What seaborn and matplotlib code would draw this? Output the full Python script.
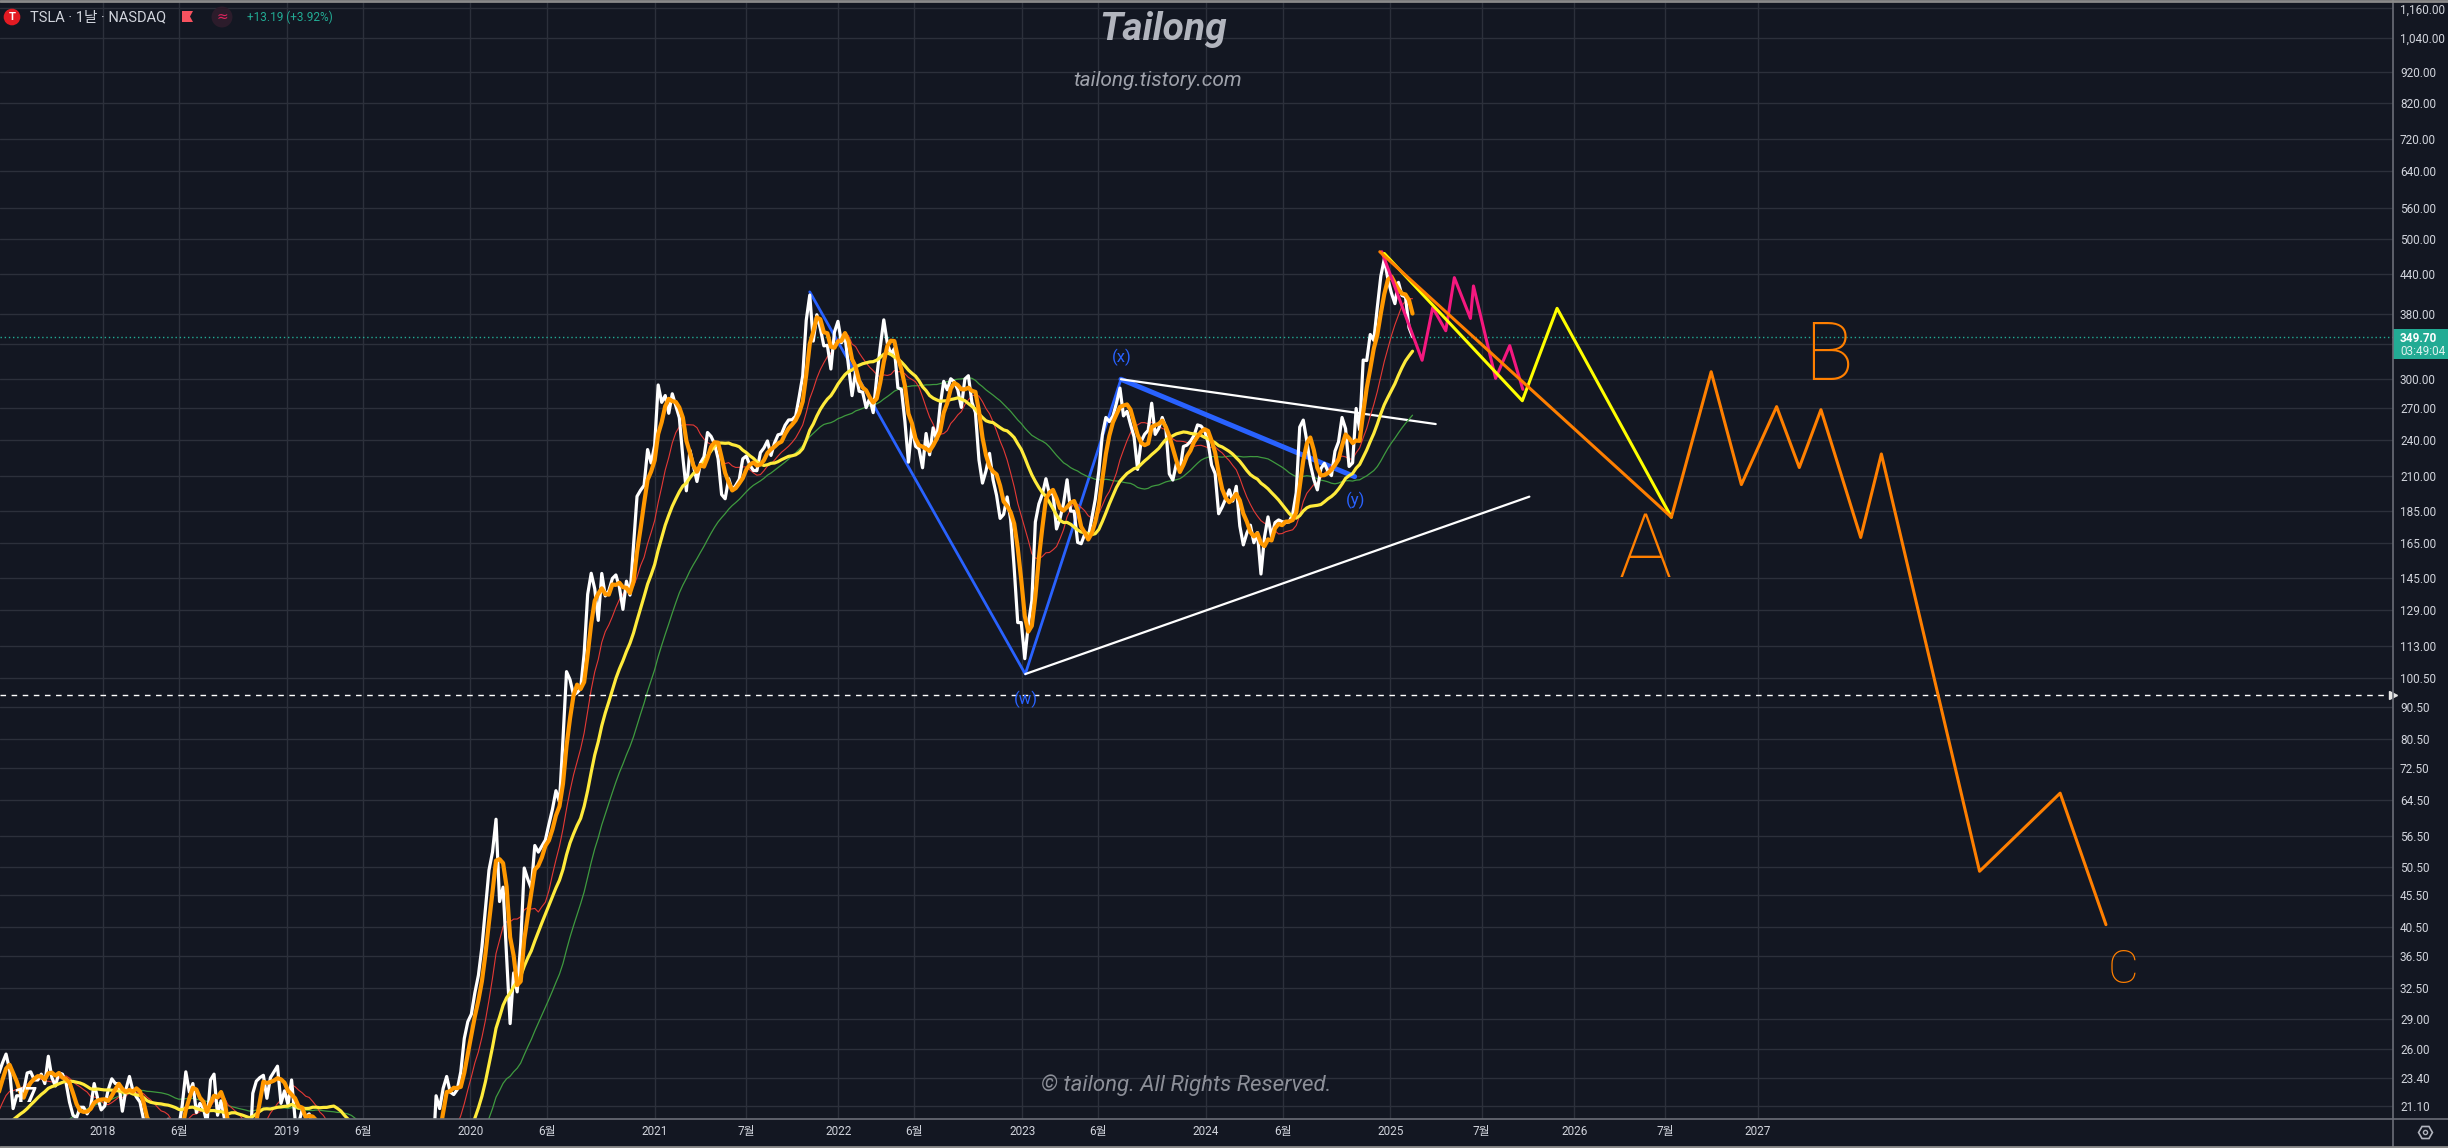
import numpy as np
import pandas as pd
import matplotlib
matplotlib.use("Agg")
import matplotlib.pyplot as plt
from matplotlib import ticker
from matplotlib.lines import Line2D
from matplotlib.patches import Rectangle, Polygon
from matplotlib.transforms import blended_transform_factory
import seaborn as sns

W, H = 2448, 1148

# weekly closes of TSLA (split adjusted)
# 2016 and the first half of 2017 only warm up the moving averages
close_2016 = [14.4, 14.5, 14.7, 14.8, 15.7, 15.1, 15.0, 15.0, 14.6, 13.2,
              13.0, 13.7, 13.8, 13.6, 13.1, 13.1, 13.3, 13.3, 12.7, 12.1,
              12.3, 13.1, 12.1, 12.8, 13.5, 14.2, 14.2]
close_2017 = [15.3, 15.9, 16.3, 16.9, 16.8, 17.9, 18.1, 17.1, 16.8, 16.2,
              17.4, 17.5, 18.6, 20.2, 20.3, 20.4, 20.9, 20.5, 21.7, 20.7,
              21.7, 22.7, 23.8, 24.7, 25.5, 24.1, 20.9, 21.9, 21.9, 22.3,
              23.8, 23.9, 23.2, 23.2, 23.7, 22.9, 25.3, 23.4, 22.7, 23.8,
              23.7, 23.0, 21.4, 20.4, 20.2, 21.0, 21.0, 20.5, 21.0, 22.9,
              21.7, 20.8]
close_2018 = [21.1, 22.4, 23.3, 22.9, 22.9, 20.7, 22.4, 23.5, 22.3, 21.8,
              21.4, 20.1, 17.7, 19.9, 20.0, 19.3, 19.6, 19.6, 20.1, 18.5,
              18.6, 19.5, 21.2, 23.9, 22.2, 22.9, 20.6, 21.3, 20.9, 19.8,
              23.2, 23.7, 20.4, 21.5, 20.1, 17.5, 19.7, 19.9, 17.7, 17.5,
              17.3, 17.3, 22.1, 23.1, 23.4, 23.6, 21.7, 23.4, 23.9, 24.4,
              21.3, 22.3]
close_2019 = [21.2, 23.2, 20.1, 19.8, 20.8, 20.3, 20.5, 19.6, 19.7, 18.9,
              18.3, 17.6, 18.7, 18.3, 17.9, 18.2, 15.7, 17.0, 16.0, 14.1,
              12.7, 12.3, 13.6, 14.3, 14.8, 14.9, 15.5, 16.4, 17.2, 15.2,
              15.6, 15.7, 14.7, 14.1, 15.0, 15.3, 16.5, 16.0, 16.1, 15.4,
              16.5, 17.1, 21.9, 20.9, 22.5, 23.5, 22.2, 22.0, 22.4, 23.9,
              27.0, 28.7]
close_2020 = [29.5, 31.9, 34.0, 37.7, 43.4, 49.9, 53.3, 60.1, 44.5, 46.9,
              36.4, 28.5, 34.3, 32.0, 38.2, 50.3, 48.3, 46.7, 54.6, 53.3,
              54.5, 55.7, 59.0, 62.3, 66.7, 64.0, 80.6, 103.0, 100.0, 94.5,
              95.4, 96.8, 110.0, 136.6, 147.5, 139.4, 124.2, 147.4, 135.8, 138.4,
              144.7, 146.6, 140.2, 129.3, 143.3, 136.2, 163.2, 195.3, 199.7, 203.3,
              231.7, 220.6]
close_2021 = [235.2, 293.3, 275.3, 282.2, 264.5, 284.0, 272.0, 260.3, 225.2, 199.3,
              231.2, 218.3, 206.2, 220.6, 225.7, 246.6, 243.1, 236.5, 224.1, 196.6,
              193.6, 208.4, 199.7, 203.3, 207.8, 224.0, 226.3, 219.0, 214.7, 214.5,
              229.1, 233.0, 239.1, 226.8, 237.3, 244.5, 245.4, 253.2, 258.1, 258.4,
              261.8, 281.0, 303.2, 371.3, 407.3, 344.3, 379.0, 360.6, 338.3, 339.0,
              310.9, 355.7, 370.0]
close_2022 = [342.3, 349.9, 314.6, 282.1, 307.8, 286.7, 285.7, 270.0, 279.4, 265.1,
              301.8, 336.9, 372.0, 341.8, 328.3, 335.0, 290.3, 288.6, 256.5, 221.3,
              253.2, 234.5, 232.2, 216.8, 245.7, 227.3, 250.8, 240.1, 272.2, 297.2,
              288.2, 300.0, 296.7, 288.1, 270.2, 299.7, 303.4, 275.3, 265.3, 223.1,
              205.0, 214.4, 228.5, 207.5, 196.0, 180.2, 182.9, 194.9, 179.1, 150.2,
              123.2, 123.2]
close_2023 = [108.0, 122.4, 133.4, 177.9, 190.0, 196.9, 208.3, 196.9, 197.8, 173.4,
              180.1, 190.4, 207.5, 185.1, 185.0, 165.1, 164.3, 170.1, 168.0, 180.1,
              193.2, 214.0, 244.4, 260.5, 256.6, 261.8, 274.4, 290.0, 262.0, 266.4,
              253.9, 242.7, 215.5, 238.6, 245.0, 248.5, 274.4, 244.9, 250.2, 260.5,
              251.1, 212.0, 207.3, 220.0, 214.7, 234.3, 235.5, 238.8, 243.8, 253.5,
              252.5, 248.5]
close_2024 = [237.5, 218.9, 212.2, 183.3, 187.9, 193.6, 200.0, 192.0, 202.6, 175.3,
              163.6, 170.8, 175.8, 164.9, 171.1, 147.1, 168.3, 181.2, 168.5, 177.5,
              179.2, 178.1, 177.5, 178.0, 183.0, 197.9, 251.5, 258.0, 239.2, 219.8,
              207.7, 200.0, 216.1, 220.3, 214.1, 210.7, 230.3, 238.3, 260.5, 250.1,
              217.8, 220.7, 269.2, 249.0, 321.2, 320.7, 352.6, 345.2, 389.2, 436.2,
              465.0, 431.7]
close_2025 = [410.4, 394.7, 426.5, 406.6, 404.6, 361.6, 349.7]
first_friday = "2016-07-01"

# moving averages on the chart (20 / 60 / 120 / 240 days) in weeks
ma_weeks = {"ma20": 4, "ma60": 12, "ma120": 24, "ma240": 48}

last_price = 349.70
last_change = "+13.19 (+3.92%)"
dashed_level = 94.6

# axis ticks
tick_dates = ["2018-01-01", "2018-06-01", "2019-01-01", "2019-06-01", "2020-01-01",
              "2020-06-01", "2021-01-01", "2021-07-01", "2022-01-01", "2022-06-01",
              "2023-01-01", "2023-06-01", "2024-01-01", "2024-06-01", "2025-01-01",
              "2025-07-01", "2026-01-01", "2026-07-01", "2027-01-01"]
tick_labels = ["2018", "6월", "2019", "6월", "2020", "6월", "2021", "7월", "2022", "6월",
               "2023", "6월", "2024", "6월", "2025", "7월", "2026", "7월", "2027"]
price_ticks = [1160, 1040, 920, 820, 720, 640, 560, 500, 440, 380, 340, 300, 270,
               240, 210, 185, 165, 145, 129, 113, 100.5, 90.5, 80.5, 72.5, 64.5,
               56.5, 50.5, 45.5, 40.5, 36.5, 32.5, 29, 26, 23.4, 21.1]

# hand drawn wave count
wx_dates = ["2021-11-05", "2023-01-07", "2023-07-16"]
wx_prices = [412, 102.1, 299.5]
xy_dates = ["2023-07-16", "2024-10-22"]
xy_prices = [299.5, 209.9]
upper_dates = ["2023-07-16", "2025-04-01"]
upper_prices = [299.5, 254.3]
lower_dates = ["2023-01-07", "2025-10-04"]
lower_prices = [102.1, 195.1]
pink_dates = ["2024-12-15", "2025-03-05", "2025-03-26", "2025-04-21", "2025-05-08",
              "2025-06-09", "2025-06-15", "2025-07-29", "2025-08-26", "2025-09-21"]
pink_prices = [477, 321, 389, 357.5, 434, 374, 421, 300.5, 338.6, 288.7]
yellow_dates = ["2024-12-20", "2025-09-20", "2025-11-28", "2026-07-13"]
yellow_prices = [474, 276.9, 388, 181]
orange_dates = ["2024-12-11", "2026-07-13", "2026-09-30", "2026-11-29", "2027-02-07",
                "2027-03-24", "2027-05-06", "2027-07-24", "2027-09-03", "2028-03-16",
                "2028-08-23", "2028-11-22"]
orange_prices = [477, 181, 307.8, 203.9, 271, 217, 268, 168.1, 228, 49.7, 66.1, 40.9]

wave_labels = ["(w)", "(x)", "(y)"]
wave_label_dates = ["2023-01-08", "2023-07-18", "2024-10-24"]
wave_label_prices = [93.2, 324.9, 192.7]
abc_labels = ["A", "B", "C"]
abc_dates = ["2026-05-22", "2027-05-21", "2028-12-26"]
abc_prices = [159.4, 323.7, 34.7]

# colours
BG = "#131722"
GRID = "#2c303b"
AXIS = "#6b6e78"
TXT = "#d1d4dc"
TEAL = "#22ab94"
BLUE = "#2962ff"

closes = (close_2016 + close_2017 + close_2018 + close_2019 + close_2020 +
          close_2021 + close_2022 + close_2023 + close_2024 + close_2025)
df = pd.DataFrame({"date": pd.date_range(first_friday, periods=len(closes), freq="W-FRI"),
                   "close": closes})
for name, n in ma_weeks.items():
    df[name] = df["close"].rolling(n, min_periods=1).mean()

sns.set_theme(style="darkgrid", rc={
    "axes.facecolor": BG, "figure.facecolor": BG, "grid.color": GRID,
    "axes.edgecolor": AXIS, "text.color": TXT,
    "xtick.color": TXT, "ytick.color": TXT,
})
plt.rcParams["font.family"] = ["Roboto", "Noto Sans CJK KR", "DejaVu Sans"]

fig = plt.figure(figsize=(W / 100, H / 100), dpi=100)
ax = fig.add_axes([0, 29 / H, 2393 / W, 1119 / H])
ax.set_yscale("log")


def px(x, y):
    return x / W, 1 - y / H


# wave count lines below the price
d = pd.to_datetime
ax.plot(d(wx_dates), wx_prices, color=BLUE, lw=2.0, zorder=1)
ax.plot(d(xy_dates), xy_prices, color=BLUE, lw=3.6, zorder=1)
ax.plot(d(upper_dates), upper_prices, color="white", lw=1.6, zorder=1)
ax.plot(d(lower_dates), lower_prices, color="white", lw=1.6, zorder=1)

# price and moving averages
sns.lineplot(data=df, x="date", y="ma240", color="#3f9a3f", lw=0.9, ax=ax, legend=False, zorder=2)
sns.lineplot(data=df, x="date", y="ma60", color="#e53935", lw=0.8, ax=ax, legend=False, zorder=2)
sns.lineplot(data=df, x="date", y="close", color="white", lw=2.3, ax=ax, legend=False, zorder=3)
sns.lineplot(data=df, x="date", y="ma120", color="#ffeb3b", lw=2.3, ax=ax, legend=False, zorder=3)
sns.lineplot(data=df, x="date", y="ma20", color="#ff9800", lw=3.0, ax=ax, legend=False, zorder=3)

# forecast drawings on top
ax.plot(d(pink_dates), pink_prices, color="#f5187f", lw=2.2, zorder=5)
ax.plot(d(yellow_dates), yellow_prices, color="#ffff00", lw=2.2, zorder=5)
ax.plot(d(orange_dates), orange_prices, color="#ff7f00", lw=2.2, zorder=6)

for lab, dt, p in zip(wave_labels, wave_label_dates, wave_label_prices):
    ax.text(d(dt), p, lab, color=BLUE, fontsize=12, ha="center", va="center", zorder=6)
for lab, dt, p, fs in zip(abc_labels, abc_dates, abc_prices, [64, 58, 34]):
    ax.text(d(dt), p, lab, color="#ff7f00", fontsize=fs, fontweight="light",
            ha="center", va="center", zorder=6)

# horizontal levels
ax.axhline(last_price, color=TEAL, lw=1.0, ls=(0, (1, 2)), zorder=2)
ax.axhline(dashed_level, color="white", lw=1.0, ls=(0, (4, 4)), zorder=2)
edge = blended_transform_factory(ax.transAxes, ax.transData)
ax.plot([1.0], [dashed_level], marker=">", ms=6, color="#e6e6e6", transform=edge,
        clip_on=False, zorder=7)

# axes
ax.set_xlim(d("2017-06-11"), d("2030-06-15"))
ax.set_ylim(20.12, 1195.7)
ax.set_xticks(d(tick_dates))
ax.set_xticklabels(tick_labels)
ax.yaxis.tick_right()
ax.yaxis.set_major_locator(ticker.FixedLocator(price_ticks))
ax.yaxis.set_minor_locator(ticker.NullLocator())
ax.yaxis.set_major_formatter(ticker.FixedFormatter(
    ["" if v == 340 else f"{v:,.2f}" for v in price_ticks]))
ax.tick_params(axis="both", length=0, labelsize=8.5, colors=TXT)
ax.tick_params(axis="x", pad=4)
ax.tick_params(axis="y", pad=5)
ax.grid(True, color=GRID, lw=1.0)
ax.set_xlabel("")
ax.set_ylabel("")
for s in ax.spines.values():
    s.set_visible(False)

# frame lines
fig.add_artist(Line2D([0, 1], [1 - 1119 / H] * 2, color=AXIS, lw=1.2, transform=fig.transFigure))
fig.add_artist(Line2D([2393 / W] * 2, [0, 1], color=AXIS, lw=1.2, transform=fig.transFigure))
fig.add_artist(Line2D([0, 1], [1 - 1 / H] * 2, color="#8a8a8a", lw=2, transform=fig.transFigure))
fig.add_artist(Line2D([0, 1], [1 / H] * 2, color="#8a8a8a", lw=2, transform=fig.transFigure))

# last price tag
fig.add_artist(Rectangle(px(2393, 359), 55 / W, 30 / H, transform=fig.transFigure,
                         fc=TEAL, ec="none"))
fig.text(*px(2400, 338), f"{last_price:.2f}", color="white", fontsize=8.5,
         fontweight="bold", va="center")
fig.text(*px(2400, 352), "03:49:04", color="#e0f2ef", fontsize=8.5, va="center")

# header
fig.text(*px(12, 17), "T", color="white", fontsize=8, fontweight="bold", ha="center",
         va="center", bbox=dict(boxstyle="circle,pad=0.3", fc="#e31b23", ec="none"))
fig.text(*px(30, 17), "TSLA · 1날 · NASDAQ", color=TXT, fontsize=10.5, va="center")
fig.add_artist(Polygon([px(182, 11), px(193, 11), px(190, 16.5), px(193, 22), px(182, 22)],
                       closed=True, transform=fig.transFigure, fc="#f7525f", ec="none"))
fig.text(*px(222, 17), "≈", color="#e0245e", fontsize=10, ha="center", va="center",
         family="DejaVu Sans",
         bbox=dict(boxstyle="circle,pad=0.25", fc="#2c1c2b", ec="none"))
fig.text(*px(247, 17), last_change, color=TEAL, fontsize=8.5, va="center")

# watermarks
fig.text(*px(1163, 30), "Tailong", color="#b2b5be", fontsize=28, fontweight="bold",
         fontstyle="italic", ha="center", va="center")
fig.text(*px(1158, 80), "tailong.tistory.com", color="#9fa2ab", fontsize=15,
         fontstyle="italic", ha="center", va="center")
fig.text(*px(1186, 1085), "© tailong. All Rights Reserved.", color="#8c8f98",
         fontsize=16, fontstyle="italic", ha="center", va="center")
fig.text(*px(25, 1097), "17", color="white", fontsize=15, fontweight="heavy",
         ha="center", va="center")

# settings icon
fig.add_artist(Line2D([2425 / W], [1 - 1132 / H], marker="H", ms=10, mfc="none",
                      mec="#b2b5be", mew=1.2, transform=fig.transFigure))
fig.add_artist(Line2D([2425 / W], [1 - 1132 / H], marker="o", ms=3, mfc="none",
                      mec="#b2b5be", mew=1.0, transform=fig.transFigure))

fig.savefig("out.png", dpi=100, facecolor=BG)
